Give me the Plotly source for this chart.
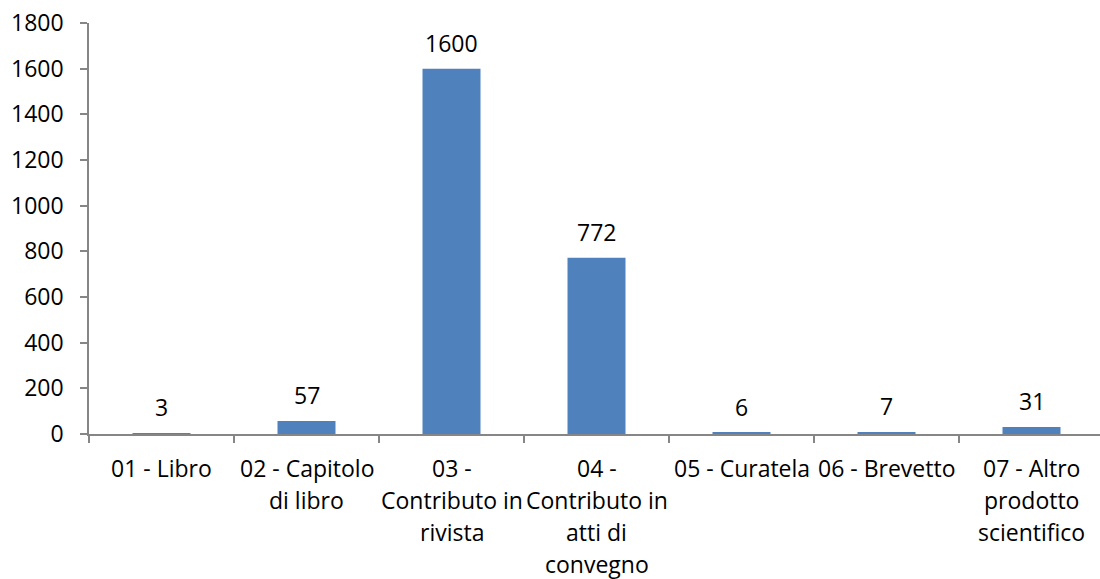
import plotly.graph_objects as go

# Publication counts by type
categories = ["01 - Libro", "02 - Capitolo di libro", "03 - Contributo in rivista",
              "04 - Contributo in atti di convegno", "05 - Curatela",
              "06 - Brevetto", "07 - Altro prodotto scientifico"]
values = [3, 57, 1600, 772, 6, 7, 31]
# wrapped category labels, one entry per line
label_lines = [
    ["01 - Libro"],
    ["02 - Capitolo", "di libro"],
    ["03 -", "Contributo in", "rivista"],
    ["04 -", "Contributo in", "atti di", "convegno"],
    ["05 - Curatela"],
    ["06 - Brevetto"],
    ["07 - Altro", "prodotto", "scientifico"],
]
y_ticks = [0, 200, 400, 600, 800, 1000, 1200, 1400, 1600, 1800]

FONT = "Open Sans"
FS = 23
BAR = "#4F81BD"
AXIS = "#868686"

fig = go.Figure()
fig.add_trace(go.Bar(
    x=categories, y=values, width=0.4,
    marker=dict(color=BAR, line=dict(width=0)),
    hoverinfo="x+y",
))

annotations = []
# value labels above bars
for c, v in zip(categories, values):
    annotations.append(dict(
        x=c, y=v, xref="x", yref="y", text=str(v), showarrow=False,
        yanchor="middle", yshift=26, font=dict(family=FONT, size=FS, color="#000000"),
    ))
# category labels under the axis
for c, lines in zip(categories, label_lines):
    for i, line in enumerate(lines):
        annotations.append(dict(
            x=c, y=0, xref="x", yref="y", text=line, showarrow=False,
            yanchor="middle", yshift=-34 - 32 * i,
            font=dict(family=FONT, size=FS, color="#000000"),
        ))

fig.update_layout(
    width=1100, height=579,
    margin=dict(l=89, r=0, t=23, b=145),
    paper_bgcolor="white", plot_bgcolor="white",
    showlegend=False,
    font=dict(family=FONT, size=FS, color="#000000"),
    annotations=annotations,
    xaxis=dict(
        type="category", range=[-0.5, 6.4724],
        showgrid=False, zeroline=False, layer="above traces",
        showline=True, linecolor=AXIS, linewidth=1.5,
        ticks="outside", tickson="boundaries", ticklen=7, tickcolor=AXIS, tickwidth=1.5,
        showticklabels=False,
    ),
    yaxis=dict(
        range=[0, 1800], tickvals=y_ticks,
        showgrid=False, zeroline=False,
        showline=True, linecolor=AXIS, linewidth=1.5,
        ticks="outside", ticklen=7, tickcolor=AXIS, tickwidth=1.5,
        ticklabelstandoff=12,
        tickfont=dict(family=FONT, size=FS, color="#000000"),
    ),
)

fig.write_html("out.html")
